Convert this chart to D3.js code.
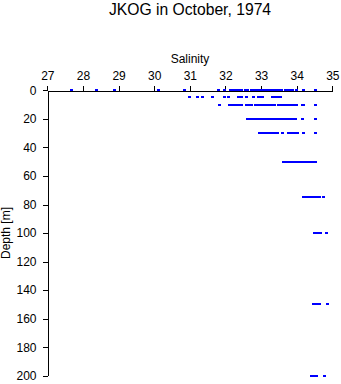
<!DOCTYPE html>
<html><head><meta charset="utf-8">
<script src="https://cdn.jsdelivr.net/npm/d3@7"></script>
<style>
body{margin:0;background:#fff;}
svg{display:block;font-family:"Liberation Sans",Arial,sans-serif;}
</style></head>
<body>
<svg id="chart" width="341" height="384"></svg>
<script>
const titleText = "JKOG in October, 1974";
const xLabel = "Salinity";
const yLabel = "Depth [m]";
const xTicks = [27, 28, 29, 30, 31, 32, 33, 34, 35];
const yTicks = [0, 20, 40, 60, 80, 100, 120, 140, 160, 180, 200];

const depths = [0, 5, 10, 20, 30, 50, 75, 100, 150, 200];
const sal0 = [27.67, 28.37, 28.90, 30.13, 30.84, 31.81, 31.96, 32.14, 32.20, 32.26, 32.32, 32.38, 32.44, 32.57, 32.63, 32.74, 32.80, 32.86, 32.92, 32.98, 33.04, 33.08, 33.15, 33.21, 33.27, 33.33, 33.39, 33.45, 33.51, 33.56, 33.70, 33.76, 33.82, 33.88, 34.00, 34.18, 34.52];
const sal5 = [31.00, 31.23, 31.37, 31.65, 31.96, 32.08, 32.37, 32.45, 32.60, 32.78, 32.92, 32.98, 33.04, 33.32, 33.38, 33.44, 33.50, 33.55];
const sal10 = [31.82, 32.11, 32.17, 32.23, 32.29, 32.35, 32.41, 32.46, 32.60, 32.67, 32.73, 32.85, 32.91, 32.97, 33.03, 33.09, 33.15, 33.21, 33.27, 33.33, 33.38, 33.49, 33.55, 33.61, 33.67, 33.73, 33.79, 33.85, 33.91, 33.94, 34.00, 34.15, 34.20, 34.53];
const sal20 = [32.62, 32.68, 32.74, 32.80, 32.86, 32.92, 32.98, 33.04, 33.10, 33.16, 33.22, 33.28, 33.34, 33.40, 33.46, 33.52, 33.58, 33.64, 33.70, 33.76, 33.82, 33.88, 33.94, 33.98, 34.17, 34.52];
const sal30 = [32.95, 33.01, 33.07, 33.13, 33.19, 33.25, 33.31, 33.37, 33.43, 33.45, 33.60, 33.77, 33.83, 33.89, 33.95, 34.01, 34.03, 34.18, 34.53];
const sal50 = [33.63, 33.69, 33.75, 33.81, 33.87, 33.93, 33.99, 34.05, 34.11, 34.17, 34.23, 34.29, 34.35, 34.41, 34.47, 34.53];
const sal75 = [34.20, 34.26, 34.32, 34.38, 34.44, 34.50, 34.56, 34.62, 34.65, 34.76];
const sal100 = [34.50, 34.56, 34.62, 34.67, 34.84];
const sal150 = [34.48, 34.54, 34.60, 34.65, 34.87];
const sal200 = [34.42, 34.48, 34.55, 34.79];
const salByDepth = [sal0, sal5, sal10, sal20, sal30, sal50, sal75, sal100, sal150, sal200];

const points = [];
depths.forEach((d, i) => salByDepth[i].forEach(s => points.push({depth: d, sal: s})));

const svg = d3.select("#chart");
const x = d3.scaleLinear().domain([27, 35]).range([47.3, 332.3]);
const y = d3.scaleLinear().domain([0, 200]).range([90.3, 375.8]);

svg.append("text").attr("x", 190).attr("y", 15).attr("text-anchor", "middle")
  .attr("font-size", "15.7px").text(titleText);

const xAxis = svg.append("g").attr("transform", "translate(0,90.5)")
  .call(d3.axisTop(x).tickValues(xTicks).tickFormat(d3.format("d")).tickSize(5).tickSizeOuter(0).tickPadding(6));
const yAxis = svg.append("g").attr("transform", "translate(47.5,0)")
  .call(d3.axisLeft(y).tickValues(yTicks).tickFormat(d3.format("d")).tickSize(5).tickSizeOuter(0).tickPadding(6));
[xAxis, yAxis].forEach(g => {
  g.selectAll("text").attr("font-size", "12px").attr("fill", "#000").attr("font-family", "Liberation Sans, Arial, sans-serif");
  g.selectAll("path,line").attr("stroke", "#000").attr("shape-rendering", "crispEdges");
});

svg.append("text").attr("x", 190).attr("y", 63).attr("text-anchor", "middle")
  .attr("font-size", "12px").text(xLabel);
svg.append("text").attr("transform", "translate(10,233) rotate(-90)").attr("text-anchor", "middle")
  .attr("font-size", "12px").text(yLabel);

svg.append("g").selectAll("rect").data(points).join("rect")
  .attr("x", d => x(d.sal) - 1.5).attr("y", d => y(d.depth) - 1)
  .attr("width", 3).attr("height", 2)
  .attr("fill", "#0000ff").attr("shape-rendering", "crispEdges");
</script>
</body></html>
